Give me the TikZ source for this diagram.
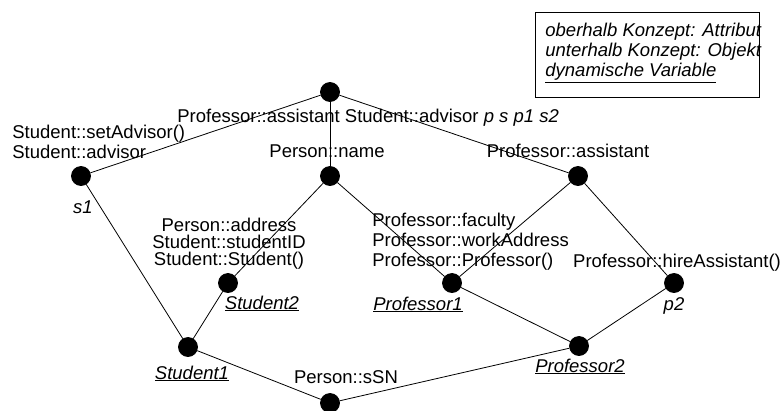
\documentclass[tikz,border=0pt]{standalone}
\usepackage{fontspec}
\setmainfont{Liberation Sans}
\begin{document}
\begin{tikzpicture}[x=1pt,y=-1pt,line width=0.8pt,
  dot/.style={shape=circle,fill=black,draw=black,inner sep=0pt,minimum size=19pt},
  lbl/.style={inner sep=0pt,font=\fontsize{18.5}{20}\selectfont},
  obj/.style={lbl,font=\fontsize{18.5}{20}\selectfont\itshape}]
\useasboundingbox (0,0) rectangle (784,410);
% concept nodes
\node(top)     at (330,92) [dot]  {};
\node(s1)      at (81,176) [dot]  {};
\node(pname)   at (330,176)[dot]  {};
\node(passist) at (578,176)[dot]  {};
\node(stud2)   at (228,283)[dot]  {};
\node(prof1)   at (452,283)[dot]  {};
\node(p2)      at (674,283)[dot]  {};
\node(stud1)   at (188,347)[dot]  {};
\node(prof2)   at (579,346)[dot]  {};
\node(bottom)  at (330,403)[dot]  {};
\path [-]
  (top)     edge (s1)
  (top)     edge (pname)
  (top)     edge (passist)
  (s1)      edge (stud1)
  (pname)   edge (stud2)
  (pname)   edge (prof1)
  (passist) edge (prof1)
  (passist) edge (p2)
  (stud2)   edge (stud1)
  (prof1)   edge (prof2)
  (p2)      edge (prof2)
  (stud1)   edge (bottom)
  (prof2)   edge (bottom);
% labels
\node(toplbl)     at (177,122)[lbl,anchor=base west] {Professor::assistant Student::advisor \textit{p s p1 s2}};
\node(s1attr)     at (12,142) [lbl,anchor=west,align=left] {Student::setAdvisor()\\Student::advisor};
\node(s1lbl)      at (83,213) [obj,anchor=base] {s1};
\node(pnamelbl)   at (327,157)[lbl,anchor=base] {Person::name};
\node(passistlbl) at (568,157)[lbl,anchor=base] {Professor::assistant};
\node(stud2attr)  at (229,244)[lbl,align=center,font=\fontsize{18.5}{17}\selectfont] {Person::address\\Student::studentID\\Student::Student()};
\node(stud2lbl)   at (262,309)[obj,anchor=base] {\underline{Student2}};
\node(prof1attr)  at (372,242)[lbl,anchor=west,align=left] {Professor::faculty\\Professor::workAddress\\Professor::Professor()};
\node(prof1lbl)   at (418,310)[obj,anchor=base] {\underline{Professor1}};
\node(p2attr)     at (677,267)[lbl,anchor=base] {Professor::hireAssistant()};
\node(p2lbl)      at (674,310)[obj,anchor=base] {p2};
\node(stud1lbl)   at (192,379)[obj,anchor=base] {\underline{Student1}};
\node(ssnlbl)     at (346,383)[lbl,anchor=base] {Person::sSN};
\node(prof2lbl)   at (580,372)[obj,anchor=base] {\underline{Professor2}};
% legend
\draw (535,12) rectangle (759,97);
\node(legend) at (545,53)[obj,anchor=west,align=left] {oberhalb Konzept: Attribut\\unterhalb Konzept: Objekt\\\underline{dynamische Variable}};
\end{tikzpicture}
\end{document}
